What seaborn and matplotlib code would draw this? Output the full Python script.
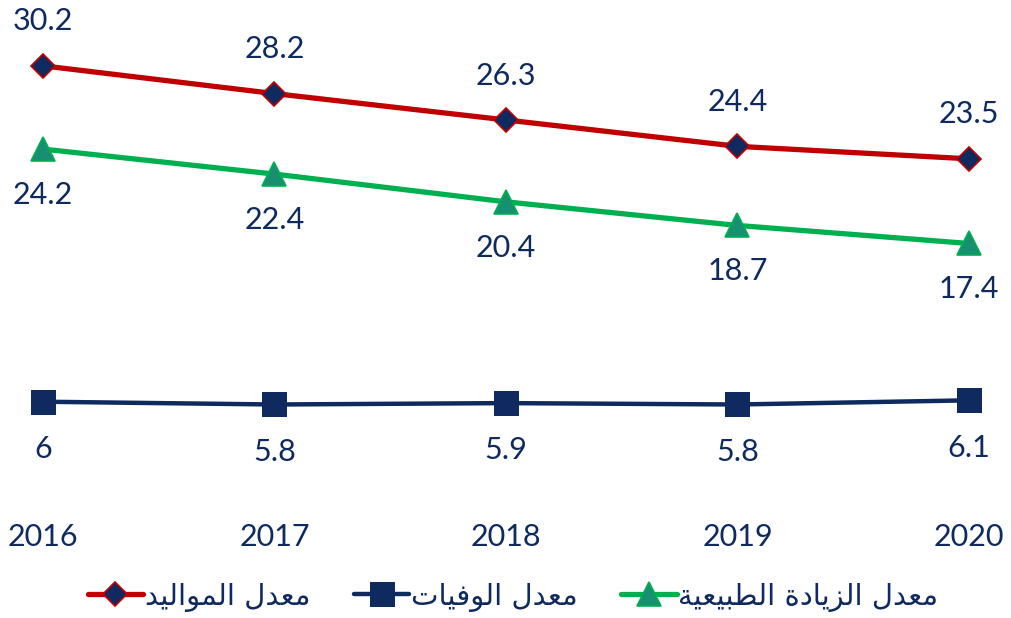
import matplotlib
matplotlib.use("Agg")
import matplotlib.pyplot as plt
import seaborn as sns
import pandas as pd

years = [2016, 2017, 2018, 2019, 2020]
births = [30.2, 28.2, 26.3, 24.4, 23.5]
natural_increase = [24.2, 22.4, 20.4, 18.7, 17.4]
deaths = [6, 5.8, 5.9, 5.8, 6.1]
labels = ["معدل المواليد", "معدل الوفيات", "معدل الزيادة الطبيعية"]
value_text_births = ["30.2", "28.2", "26.3", "24.4", "23.5"]
value_text_nat = ["24.2", "22.4", "20.4", "18.7", "17.4"]
value_text_deaths = ["6", "5.8", "5.9", "5.8", "6.1"]

# --- minimal Arabic shaping (presentation forms) for display ---
FORMS = {
    'ا': ('\uFE8D', '\uFE8E', None, None),
    'ب': ('\uFE8F', '\uFE90', '\uFE91', '\uFE92'),
    'ة': ('\uFE93', '\uFE94', None, None),
    'ت': ('\uFE95', '\uFE96', '\uFE97', '\uFE98'),
    'د': ('\uFEA9', '\uFEAA', None, None),
    'ز': ('\uFEAF', '\uFEB0', None, None),
    'ط': ('\uFEC1', '\uFEC2', '\uFEC3', '\uFEC4'),
    'ع': ('\uFEC9', '\uFECA', '\uFECB', '\uFECC'),
    'ف': ('\uFED1', '\uFED2', '\uFED3', '\uFED4'),
    'ل': ('\uFEDD', '\uFEDE', '\uFEDF', '\uFEE0'),
    'م': ('\uFEE1', '\uFEE2', '\uFEE3', '\uFEE4'),
    'و': ('\uFEED', '\uFEEE', None, None),
    'ي': ('\uFEF1', '\uFEF2', '\uFEF3', '\uFEF4'),
}


def shape(text):
    out = []
    for i, ch in enumerate(text):
        if ch not in FORMS:
            out.append(ch)
            continue
        prev = text[i - 1] if i > 0 else None
        nxt = text[i + 1] if i + 1 < len(text) else None
        jp = prev in FORMS and FORMS[prev][2] is not None
        jn = FORMS[ch][2] is not None and nxt in FORMS
        iso, fin, ini, med = FORMS[ch]
        if jp and jn:
            out.append(med)
        elif jp:
            out.append(fin)
        elif jn:
            out.append(ini)
        else:
            out.append(iso)
    return ''.join(out)[::-1]


navy = '#0E2A5E'
red = '#C00000'
green = '#00B050'

sns.set_theme(style='white')
plt.rcParams['font.family'] = ['Lato', 'DejaVu Sans']

fig = plt.figure(figsize=(10.11, 6.18), dpi=100)
ax = fig.add_axes([0, 1 - 485 / 618, 1, 485 / 618])

df_b = pd.DataFrame({'year': years, 'v': births})
df_n = pd.DataFrame({'year': years, 'v': natural_increase})
df_d = pd.DataFrame({'year': years, 'v': deaths})

sns.lineplot(data=df_b, x='year', y='v', ax=ax, color=red, lw=3.8,
             marker='D', markersize=12, markerfacecolor=navy,
             markeredgecolor=red, markeredgewidth=1.2, label=shape(labels[0]))
sns.lineplot(data=df_d, x='year', y='v', ax=ax, color=navy, lw=3.2,
             marker='s', markersize=18, markerfacecolor=navy,
             markeredgecolor=navy, markeredgewidth=0, label=shape(labels[1]))
sns.lineplot(data=df_n, x='year', y='v', ax=ax, color=green, lw=3.8,
             marker='^', markersize=17, markerfacecolor='#169070',
             markeredgecolor=green, markeredgewidth=1.2, label=shape(labels[2]))

for x, y, t in zip(years, births, value_text_births):
    ax.annotate(t, (x, y), xytext=(0, 32), textcoords='offset points',
                ha='center', va='center', fontsize=22, color=navy)
for x, y, t in zip(years, natural_increase, value_text_nat):
    ax.annotate(t, (x, y), xytext=(0, -33), textcoords='offset points',
                ha='center', va='center', fontsize=22, color=navy)
for x, y, t in zip(years, deaths, value_text_deaths):
    ax.annotate(t, (x, y), xytext=(0, -34), textcoords='offset points',
                ha='center', va='center', fontsize=22, color=navy)

ax.set_xlim(2016 - 43 / 231.5, 2020 + 42 / 231.5)
ax.set_ylim(0, 485 / 13.88)
ax.set_xticks(years)
ax.set_xticklabels([str(y) for y in years], fontsize=22, color=navy)
ax.tick_params(axis='x', length=0, pad=27)
ax.set_yticks([])
ax.set_xlabel('')
ax.set_ylabel('')
for s in ax.spines.values():
    s.set_visible(False)
ax.patch.set_alpha(0)

handles, labs = ax.get_legend_handles_labels()
ax.get_legend().remove()
leg = fig.legend(handles, labs, loc='center', bbox_to_anchor=(513 / 1011, 1 - 597 / 618),
                 ncol=3, frameon=False, handlelength=1.9, handletextpad=0.05,
                 columnspacing=1.5,
                 prop={'family': 'DejaVu Sans', 'size': 21})
for t in leg.get_texts():
    t.set_color(navy)

fig.savefig('out.png', dpi=100)
